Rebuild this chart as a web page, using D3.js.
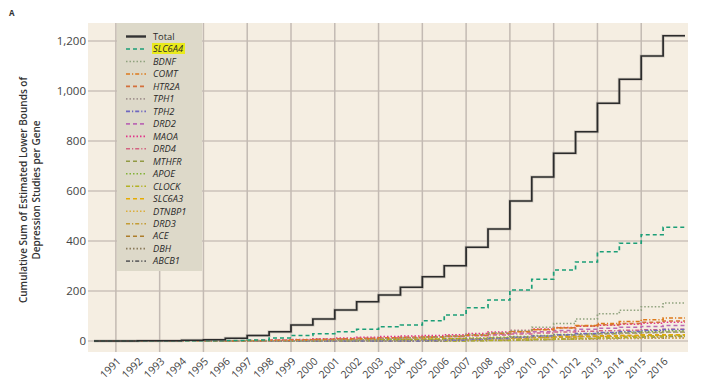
<!DOCTYPE html>
<html><head><meta charset="utf-8">
<script src="https://cdn.jsdelivr.net/npm/d3@7"></script>
<style>body{margin:0;background:#fff;} svg{display:block;font-family:"Open Sans",sans-serif;}</style>
</head><body>
<svg id="c" width="706" height="392"></svg>
<script>
const years = [1990,1991,1992,1993,1994,1995,1996,1997,1998,1999,2000,2001,2002,2003,2004,2005,2006,2007,2008,2009,2010,2011,2012,2013,2014,2015,2016];
const tickYears = [1991,1992,1993,1994,1995,1996,1997,1998,1999,2000,2001,2002,2003,2004,2005,2006,2007,2008,2009,2010,2011,2012,2013,2014,2015,2016];
const yTicks = [0,200,400,600,800,1000,1200];
const seriesNames = ["Total","SLC6A4","BDNF","COMT","HTR2A","TPH1","TPH2","DRD2","MAOA","DRD4","MTHFR","APOE","CLOCK","SLC6A3","DTNBP1","DRD3","ACE","DBH","ABCB1"];
const Total  = [0,0,1,1,3,5,11,22,37,64,88,124,157,184,215,257,301,375,448,560,656,751,837,951,1047,1140,1221];
const SLC6A4 = [0,0,0,0,0,1,2,4,12,22,29,37,47,57,64,81,104,133,164,204,247,284,316,357,391,425,455];
const BDNF   = [0,0,0,0,0,0,0,0,0,1,2,4,6,9,12,16,20,26,33,42,55,70,88,109,123,137,152];
const COMT   = [0,0,0,0,0,0,0,1,2,3,5,7,9,11,13,15,18,23,30,37,45,52,62,70,78,85,92];
const HTR2A  = [0,0,0,0,0,0,1,2,3,5,7,9,11,13,15,17,20,25,31,38,46,53,60,65,70,75,80];
const TPH1   = [0,0,0,0,0,0,0,0,0,0,0,0,0,1,2,3,5,7,10,14,18,22,25,28,31,33,35];
const TPH2   = [0,0,0,0,0,0,0,0,0,0,0,0,0,0,0,1,3,6,10,15,20,25,30,34,38,42,46];
const DRD2   = [0,0,0,0,0,0,0,1,2,4,6,8,10,12,14,16,18,22,27,32,37,42,47,51,55,58,62];
const MAOA   = [0,0,0,0,0,0,1,2,4,6,9,12,15,18,20,22,25,30,36,42,48,54,59,63,67,71,75];
const DRD4   = [0,0,0,0,0,0,0,1,2,4,6,8,10,12,14,16,18,21,24,28,32,36,39,41,43,45,47];
const MTHFR  = [0,0,0,0,0,0,0,0,0,0,0,0,1,2,3,4,6,8,11,15,19,23,26,29,32,34,36];
const APOE   = [0,0,0,0,0,0,0,0,0,1,2,3,4,5,6,8,10,12,15,18,22,26,29,32,35,38,41];
const CLOCK  = [0,0,0,0,0,0,0,0,0,0,0,0,0,0,0,0,0,1,2,4,6,8,10,13,15,18,20];
const SLC6A3 = [0,0,0,0,0,0,0,0,1,2,3,4,5,6,7,8,9,10,12,14,16,18,20,21,22,24,25];
const DTNBP1 = [0,0,0,0,0,0,0,0,0,0,0,0,0,0,1,2,3,4,5,6,7,8,9,10,11,12,12];
const DRD3   = [0,0,0,0,0,0,0,0,0,1,2,3,4,5,6,7,8,9,11,12,14,16,17,18,19,21,22];
const ACE    = [0,0,0,0,0,0,0,0,0,0,0,1,2,3,4,5,6,8,10,12,14,16,18,20,22,24,25];
const DBH    = [0,0,0,0,0,0,0,0,0,0,0,0,0,1,1,2,2,3,4,5,6,7,8,9,10,11,12];
const ABCB1  = [0,0,0,0,0,0,0,0,0,0,0,0,0,0,0,0,1,2,3,4,6,8,10,12,14,16,18];
const seriesValues = [Total,SLC6A4,BDNF,COMT,HTR2A,TPH1,TPH2,DRD2,MAOA,DRD4,MTHFR,APOE,CLOCK,SLC6A3,DTNBP1,DRD3,ACE,DBH,ABCB1];

// styles
const colors = ["#333333","#1b9e77","#8fa27e","#dd7a1c","#d4703c","#a39490","#6f68c0","#bb6ab4","#e2348a","#d36482","#929a44","#82b236","#b3b224","#e6ab02","#dcae3c","#c49c34","#ad7e2c","#8a7a5a","#666666"];
const dashes = {dash:"4,3", dot:"1.5,2", dashdot:"4,2,1.2,2"};
const styleCycle = ["dash","dot","dashdot"];

const svg = d3.select("#c");
const x = d3.scaleLinear().domain([1990,2017]).range([94,685]);
const y = d3.scaleLinear().domain([0,1200]).range([341,41]);

// background
svg.append("rect").attr("x",88).attr("y",23).attr("width",600).attr("height",329).attr("fill","#f5eee2");

// gridlines
const grid = svg.append("g");
grid.selectAll("line.h").data(yTicks).join("line")
  .attr("x1",88).attr("x2",688).attr("y1",d=>y(d)).attr("y2",d=>y(d))
  .attr("stroke","#cbc2ba").attr("stroke-width",1.5);
grid.selectAll("line.v").data(tickYears.filter(t=>t%2===1)).join("line")
  .attr("x1",d=>x(d)).attr("x2",d=>x(d)).attr("y1",23).attr("y2",352)
  .attr("stroke","#c3bab3").attr("stroke-width",1.5);

// y axis labels
const yAxis = d3.axisLeft(y).tickValues(yTicks).tickFormat(d3.format(",")).tickSize(0).tickPadding(0);
const ya = svg.append("g").attr("transform","translate(86,0)").call(yAxis);
ya.select(".domain").remove();
ya.selectAll("text").attr("font-size",11.5).attr("fill","#444").attr("font-family","'Open Sans',sans-serif");

// x axis labels
const xAxis = d3.axisBottom(x).tickValues(tickYears).tickFormat(d3.format("d")).tickSize(0).tickPadding(0);
const xa = svg.append("g").attr("transform","translate(0,352)").call(xAxis);
xa.select(".domain").remove();
xa.selectAll("text").attr("font-size",10.5).attr("fill","#444").attr("font-family","'Open Sans',sans-serif")
  .attr("text-anchor","end").attr("dy",0).attr("y",0)
  .attr("transform","translate(5,10) rotate(-45)");

// lines
const line = d3.line().x(d=>x(d[0])).y(d=>y(d[1])).curve(d3.curveStepAfter);
const series = seriesNames.map((n,i)=>{
  const pts = years.map((yr,j)=>[yr,seriesValues[i][j]]);
  pts.push([2017, seriesValues[i][seriesValues[i].length-1]]);
  return {name:n, pts, color:colors[i], dash: i===0?null:dashes[styleCycle[(i-1)%3]], idx:i};
});
const lg = svg.append("g");
series.slice(1).reverse().forEach(s=>{
  lg.append("path").attr("d",line(s.pts)).attr("fill","none").attr("stroke",s.color)
    .attr("stroke-width",1.7).attr("stroke-dasharray",s.dash);
});
lg.append("path").attr("d",line(series[0].pts)).attr("fill","none").attr("stroke","#a9a39c").attr("stroke-width",3.2).attr("opacity",0.5);
lg.append("path").attr("d",line(series[0].pts)).attr("fill","none").attr("stroke","#2b2b2b").attr("stroke-width",1.7);

// legend
const leg = svg.append("g");
leg.append("rect").attr("x",117).attr("y",23).attr("width",85).attr("height",248).attr("fill","#ddd9c9");
series.forEach((s,i)=>{
  const ly = 36.5 + i*12.48;
  leg.append("line").attr("x1",126).attr("x2",146).attr("y1",ly).attr("y2",ly)
    .attr("stroke",s.color).attr("stroke-width",i===0?2.4:1.6).attr("stroke-dasharray",s.dash);
  if (s.name==="SLC6A4") {
    leg.append("rect").attr("x",152).attr("y",ly-6).attr("width",33).attr("height",11).attr("fill","#eaea1c");
  }
  leg.append("text").attr("x",153).attr("y",ly+3.3).text(s.name)
    .attr("font-size",9.3).attr("fill","#2a2a2a").attr("font-style",i===0?"normal":"italic")
    .attr("font-family","'Open Sans',sans-serif");
});

// y title
const yt = svg.append("text").attr("transform","translate(27,190) rotate(-90)")
  .attr("text-anchor","middle").attr("font-size",10).attr("fill","#333").attr("font-weight",600)
  .attr("font-family","'Open Sans',sans-serif");
yt.append("tspan").attr("x",0).attr("dy",0).text("Cumulative Sum of Estimated Lower Bounds of");
yt.append("tspan").attr("x",0).attr("dy",13).text("Depression Studies per Gene");

// panel label
svg.append("text").attr("x",9).attr("y",16).text("A").attr("font-size",8).attr("font-weight",700).attr("fill","#333");
</script>
</body></html>
